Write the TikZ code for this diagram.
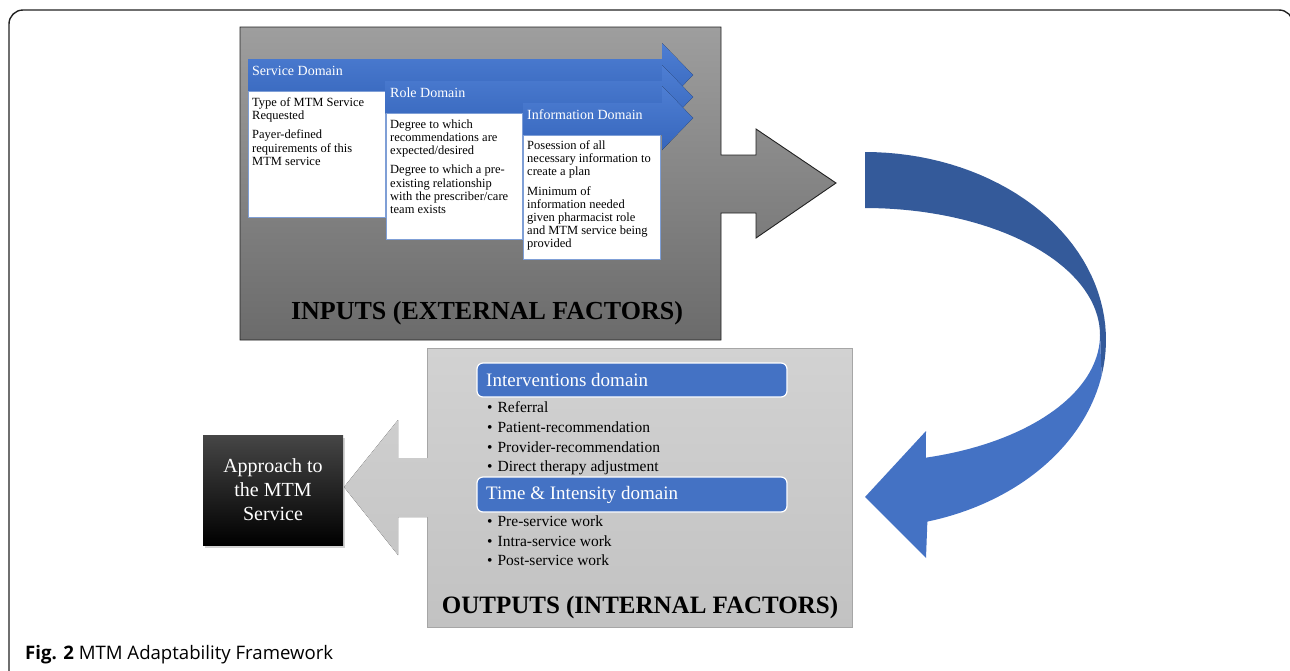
\documentclass[tikz,border=0pt]{standalone}
\usepackage{fontspec}
\setmainfont{Liberation Serif}
\newfontfamily\capfont{Open Sans}
\usetikzlibrary{positioning,shadows}

\definecolor{mtmblue}{HTML}{4472C4}
\definecolor{mtmdark}{HTML}{345A9A}
\definecolor{arrowtop}{HTML}{4E7ED3}
\definecolor{arrowbot}{HTML}{3666BC}
\definecolor{boxline}{HTML}{7F9FD6}
\definecolor{intop}{HTML}{9E9E9E}
\definecolor{inbot}{HTML}{6B6B6B}
\definecolor{outtop}{HTML}{D2D2D2}
\definecolor{outbot}{HTML}{C2C2C2}
\definecolor{outline}{HTML}{A6A6A6}
\definecolor{framecol}{HTML}{222222}

\tikzset{
  domainarrow/.style={top color=arrowtop, bottom color=arrowbot},
  domainbox/.style={fill=white, draw=boxline, line width=0.8pt},
  domainlabel/.style={text=white, anchor=west, inner sep=0pt, font=\fontsize{14}{16}\selectfont},
  boxtext/.style={anchor=north west, align=left, inner sep=0pt, font=\fontsize{12.5}{13.2}\selectfont},
  bar/.style={fill=mtmblue, draw=white, line width=1.2pt, rounded corners=6pt},
  bartext/.style={text=white, anchor=west, inner sep=0pt, font=\fontsize{19}{22}\selectfont},
  bulletlist/.style={anchor=north west, align=left, inner sep=0pt, font=\fontsize{15.5}{19.7}\selectfont},
  bigtitle/.style={inner sep=0pt, font=\bfseries\fontsize{26}{30}\selectfont}
}

\begin{document}
\begin{tikzpicture}[x=1pt,y=-1pt]
\useasboundingbox (0,0) rectangle (1290,670);

% outer frame
\draw[framecol, line width=1.4pt, rounded corners=14pt] (1293,40) -- (1293,10) -- (9,10) -- (9,700);

% inputs box with its arrow
\draw[top color=intop, bottom color=inbot, draw=framecol, line width=0.9pt]
  (240,27) -- (721,27) -- (721,155) -- (756,155) -- (756,129) -- (836,183)
  -- (756,238) -- (756,213) -- (721,213) -- (721,340) -- (240,340) -- cycle;

% service domain
\fill[domainarrow] (248,59) -- (662,59) -- (662,43) -- (693,75) -- (662,107) -- (662,91) -- (248,91) -- cycle;
\node[domainlabel] (servlab) at (252,71) {Service Domain};
\draw[domainbox] (248,91) rectangle (385,217);
\node[boxtext] (servtext) at (252,97.5) {Type of MTM Service\\Requested\\[6pt]Payer-defined\\requirements of this\\MTM service};

% role domain
\fill[domainarrow] (385,81) -- (662,81) -- (662,65) -- (693,97) -- (662,129) -- (662,113) -- (385,113) -- cycle;
\node[domainlabel] (rolelab) at (390,93) {Role Domain};
\draw[domainbox] (386,113) rectangle (522,239);
\node[boxtext] (roletext) at (390,119.5) {Degree to which\\recommendations are\\expected/desired\\[6pt]Degree to which a pre-\\existing relationship\\with the prescriber/care\\team exists};

% information domain
\fill[domainarrow] (523,103) -- (662,103) -- (662,86) -- (693,118) -- (662,150) -- (662,135) -- (523,135) -- cycle;
\node[domainlabel] (infolab) at (527,115) {Information Domain};
\draw[domainbox] (523,135) rectangle (660,259);
\node[boxtext] (infotext) at (527,140.5) {Posession of all\\necessary information to\\create a plan\\[6pt]Minimum of\\information needed\\given pharmacist role\\and MTM service being\\provided};

\node[bigtitle] (inputs) at (487,313) {INPUTS (EXTERNAL FACTORS)};

% curved blue arrow
\fill[mtmdark] plot[domain=-90:11, samples=40] ({865+241*cos(\x)},{340+188*sin(\x)})
  -- plot[domain=0:-90, samples=40] ({865+235*cos(\x)},{335+127*sin(\x)}) -- cycle;
\fill[mtmblue] (1100,335) -- plot[domain=11:75, samples=40] ({865+241*cos(\x)},{340+188*sin(\x)})
  -- (926,558) -- (865,497) -- (926,431)
  -- plot[domain=75:0, samples=40] ({865+235*cos(\x)},{335+127*sin(\x)}) -- cycle;

% outputs box with its arrow
\fill[top color=outtop, bottom color=outbot]
  (427,348) -- (852,348) -- (852,627) -- (427,627) -- (427,517) -- (398,517)
  -- (398,555) -- (344,487) -- (398,420) -- (398,458) -- (427,458) -- cycle;
\draw[outline, line width=0.8pt] (427,458) -- (427,348) -- (852,348) -- (852,627) -- (427,627) -- (427,517);

\draw[bar] (477,363) rectangle (787,397);
\node[bartext] (intervlab) at (486,380) {Interventions domain};
\node[bulletlist] (intervlist) at (487,401.5) {\textbullet\hspace{5pt}Referral\\
  \textbullet\hspace{5pt}Patient-recommendation\\
  \textbullet\hspace{5pt}Provider-recommendation\\
  \textbullet\hspace{5pt}Direct therapy adjustment};

\draw[bar] (477,477) rectangle (787,512);
\node[bartext] (timelab) at (486,495) {Time \& Intensity domain};
\node[bulletlist] (timelist) at (487,515.5) {\textbullet\hspace{5pt}Pre-service work\\
  \textbullet\hspace{5pt}Intra-service work\\
  \textbullet\hspace{5pt}Post-service work};

\node[bigtitle, font=\bfseries\fontsize{25}{30}\selectfont] (outputs) at (640,607) {OUTPUTS (INTERNAL FACTORS)};

% approach box
\node[minimum width=140pt, minimum height=110pt, inner sep=0pt, align=center,
  top color={rgb,255:red,70;green,70;blue,70}, middle color=black, bottom color=black,
  drop shadow={shadow xshift=2pt, shadow yshift=-3pt, opacity=0.35},
  text=white, font=\fontsize{20}{24}\selectfont] (approach) at (273,490)
  {Approach to\\the MTM\\Service};

% caption
\node[anchor=base west, inner sep=0pt, font=\capfont\fontsize{18.6}{22}\selectfont] (caption) at (25,659)
  {\textbf{Fig. 2} MTM Adaptability Framework};
\end{tikzpicture}
\end{document}
